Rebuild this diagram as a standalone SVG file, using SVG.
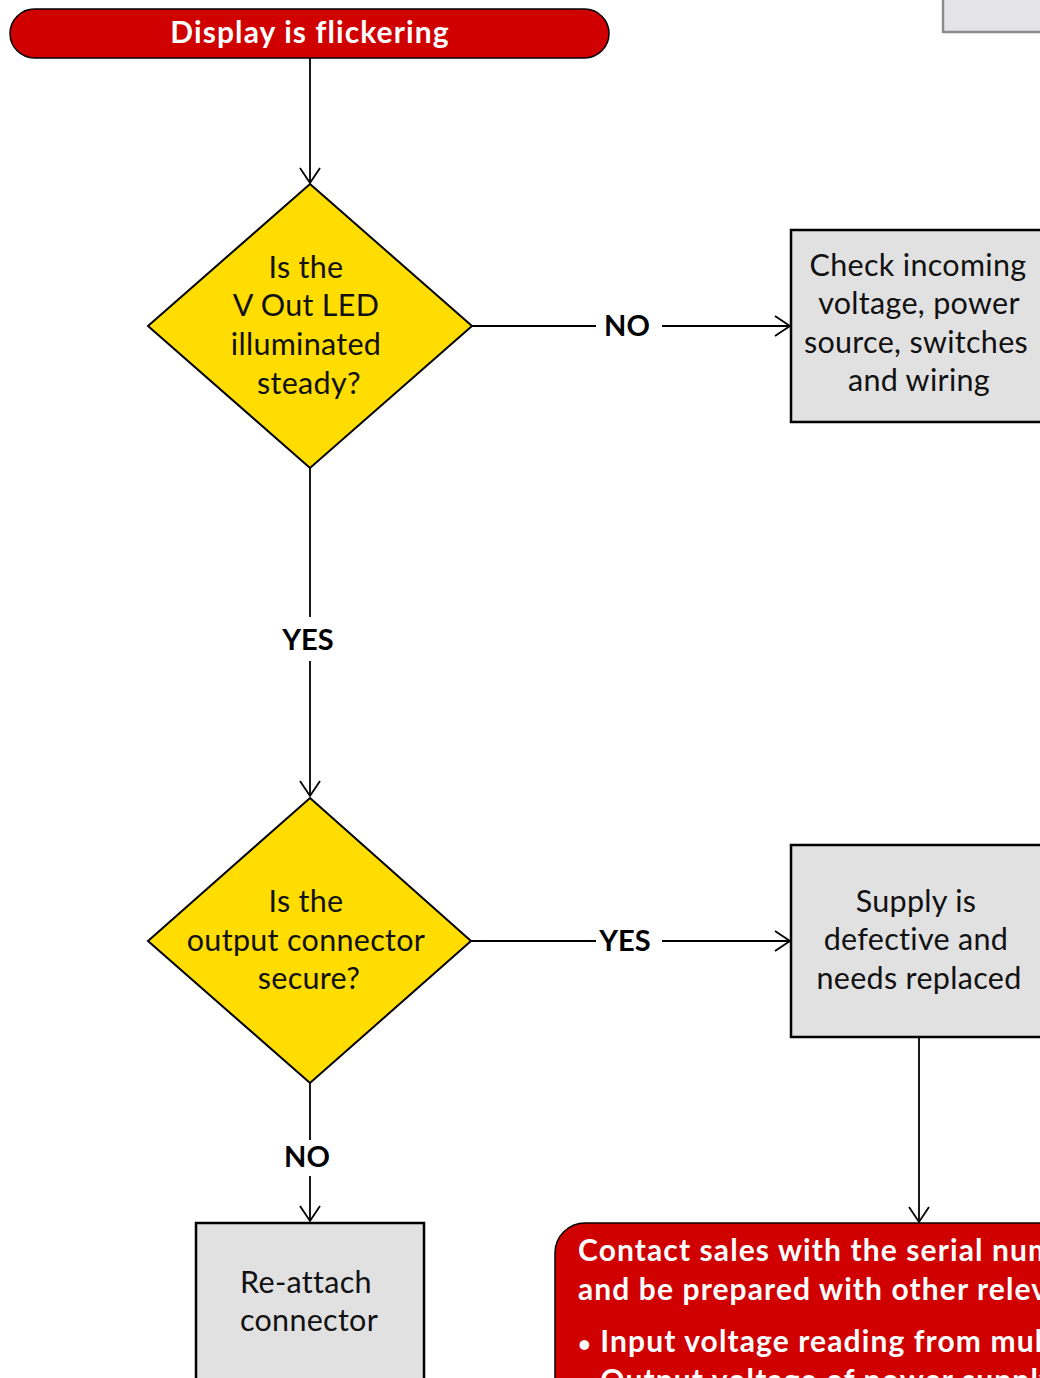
<svg xmlns="http://www.w3.org/2000/svg" width="1040" height="1378" viewBox="0 0 1040 1378">
<style>
.txt{font-family:Lato,"Open Sans","Liberation Sans",sans-serif;font-size:30.5px;letter-spacing:0.3px;fill:#111;text-anchor:middle}
.lbl{font-family:Lato,"Open Sans","Liberation Sans",sans-serif;font-size:29px;font-weight:bold;fill:#000;text-anchor:middle}
.wt{font-family:Lato,"Open Sans","Liberation Sans",sans-serif;font-size:30px;font-weight:bold;letter-spacing:1.1px;fill:#fff}
.bul{font-size:22px}
.dia{fill:#ffdd00;stroke:#000;stroke-width:2}
.box{fill:#e1e1e1;stroke:#000;stroke-width:2.5}
.red{fill:#d00000;stroke:#000;stroke-width:1.5}
.con{fill:none;stroke:#000;stroke-width:1.8}
</style>
<defs>
<marker id="arr" markerUnits="userSpaceOnUse" markerWidth="20" markerHeight="24" viewBox="-18 -12 20 24" refX="0" refY="0" orient="auto">
<path d="M-15,-10 L0,0 L-15,10" fill="none" stroke="#000" stroke-width="1.8"/>
</marker>
</defs>
<rect width="1040" height="1378" fill="#fff"/>

<g id="connectors">
<path class="con" d="M310,58 V183" marker-end="url(#arr)"/>
<path class="con" d="M472,326 H596"/>
<path class="con" d="M662,326 H790" marker-end="url(#arr)"/>
<path class="con" d="M310,468 V617"/>
<path class="con" d="M310,661 V796" marker-end="url(#arr)"/>
<path class="con" d="M471,941 H596"/>
<path class="con" d="M662,941 H790" marker-end="url(#arr)"/>
<path class="con" d="M919,1037 V1222" marker-end="url(#arr)"/>
<path class="con" d="M310,1083 V1140"/>
<path class="con" d="M310,1176 V1221" marker-end="url(#arr)"/>
<text class="lbl" x="627" y="336">NO</text>
<text class="lbl" x="308" y="650">YES</text>
<text class="lbl" x="625" y="951">YES</text>
<text class="lbl" x="307" y="1167">NO</text>
</g>

<g id="top-right-box">
<rect x="943" y="-20" width="120" height="52" fill="#e4e4e6" stroke="#8c8c8c" stroke-width="2.5"/>
</g>

<g id="start">
<rect class="red" x="10" y="9" width="599" height="49" rx="24.5"/>
<text class="wt" x="310" y="43" text-anchor="middle">Display is flickering</text>
</g>

<g id="decision1">
<polygon class="dia" points="310,184 472,326 310,468 148,326"/>
<text class="txt" x="306" y="278">Is the</text>
<text class="txt" x="306" y="316">V Out LED</text>
<text class="txt" x="306" y="355">illuminated</text>
<text class="txt" x="309" y="394">steady?</text>
</g>

<g id="check-incoming">
<rect class="box" x="791" y="230" width="270" height="192"/>
<text class="txt" x="918" y="276">Check incoming</text>
<text class="txt" x="919" y="314">voltage, power</text>
<text class="txt" x="916" y="353">source, switches</text>
<text class="txt" x="919" y="391">and wiring</text>
</g>

<g id="decision2">
<polygon class="dia" points="310,798 471,941 310,1083 148,941"/>
<text class="txt" x="306" y="912">Is the</text>
<text class="txt" x="306" y="951">output connector</text>
<text class="txt" x="309" y="989">secure?</text>
</g>

<g id="supply-defective">
<rect class="box" x="791" y="845" width="270" height="192"/>
<text class="txt" x="916" y="912">Supply is</text>
<text class="txt" x="916" y="950">defective and</text>
<text class="txt" x="919" y="989">needs replaced</text>
</g>

<g id="reattach">
<rect class="box" x="196" y="1223" width="228" height="180"/>
<text class="txt" x="306" y="1293">Re-attach</text>
<text class="txt" x="309" y="1331">connector</text>
</g>

<g id="contact-sales">
<path class="red" d="M555,1420 V1253 A30,30 0 0 1 585,1223 H1080 V1420 Z"/>
<text class="wt" x="578" y="1261">Contact sales with the serial number</text>
<text class="wt" x="578" y="1300">and be prepared with other relevant information:</text>
<text class="wt" x="578" y="1352"><tspan class="bul">•</tspan> Input voltage reading from multimeter</text>
<text class="wt" x="578" y="1391"><tspan class="bul">•</tspan> Output voltage of power supply</text>
</g>
</svg>
